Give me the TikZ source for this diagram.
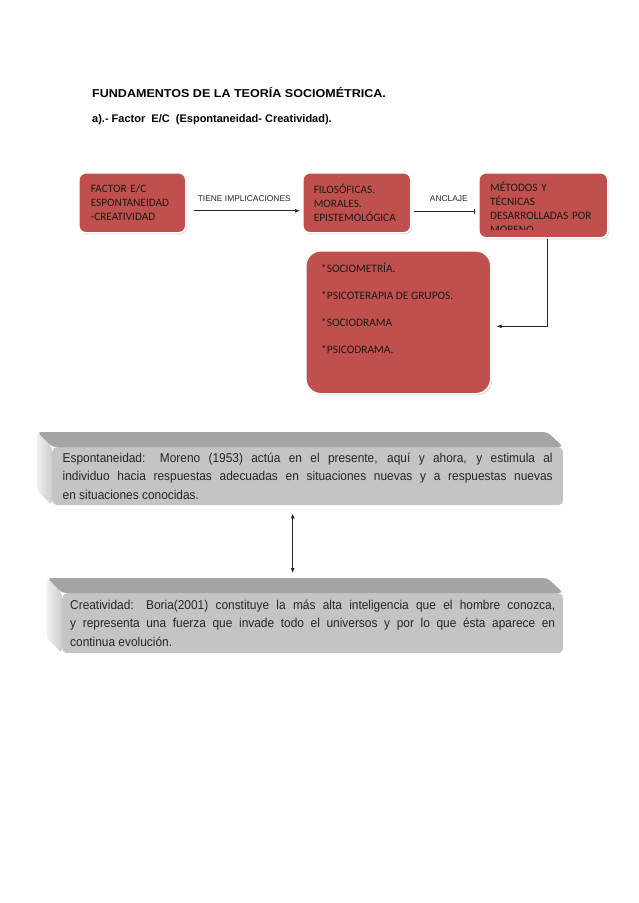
\documentclass[tikz,border=0pt]{standalone}
\usepackage{fontspec}
\setmainfont{Liberation Sans}
\newfontfamily\calibri{Carlito}
\newfontfamily\titlefont[FakeStretch=1.1]{Liberation Sans}
\newfontfamily\grayfont[FakeStretch=0.93]{Liberation Sans}
\usetikzlibrary{positioning,calc,shadows,arrows.meta}
\definecolor{boxred}{HTML}{C0504D}
\definecolor{frontgray}{HTML}{C4C4C4}
\definecolor{topgray}{HTML}{A4A4A4}
\tikzset{
  redbox/.style={draw=white, line width=1.6pt, fill=boxred, rounded corners=7pt, anchor=north west,
    drop shadow={shadow xshift=1.2pt, shadow yshift=-1.5pt, opacity=0.35},
    font=\calibri\fontsize{11.3}{13.7}\selectfont, text=black!90, align=left, inner xsep=12pt, inner ysep=0pt},
  boxtext/.style={anchor=north west, inner sep=0pt, align=left, text=black!90},
  graybox/.style={fill=frontgray, rounded corners=5pt, anchor=north west, align=justify,
    font=\grayfont\fontsize{12.8}{18.5}\selectfont, text=black!85, inner ysep=0pt},
  link/.style={line width=0.8pt, black!85},
  linklabel/.style={font=\fontsize{8.4}{9}\selectfont, inner sep=0pt, text=black!85}
}
\begin{document}
\begin{tikzpicture}[x=1pt, y=-1pt]
    \useasboundingbox (0,0) rectangle (638,903);
    % titulos
    \node[anchor=west, inner sep=0pt, font=\titlefont\bfseries\fontsize{11.4}{12}\selectfont] (title) at (92,92) {FUNDAMENTOS DE LA TEORÍA SOCIOMÉTRICA.};
    \node[anchor=west, inner sep=0pt, font=\bfseries\fontsize{11}{12}\selectfont] (sub) at (92,120) {a).- Factor\ \ E/C\ \ (Espontaneidad- Creatividad).};
    % fila superior
    \node[redbox, text width=83pt, minimum height=60pt] (f1) at (78,172) {FACTOR E/C\\ESPONTANEIDAD\\-CREATIVIDAD};
    \node[redbox, text width=86pt, minimum height=60pt, inner xsep=11pt] (f2) at (302,172) {FILOSÓFICAS.\\MORALES.\\EPISTEMOLÓGICA};
    \node[redbox, minimum width=129pt, minimum height=65pt] (f3) at (478,172) {};
    \begin{scope}
        \clip ($(f3.north west)+(4,4)$) rectangle ($(f3.south east)+(-4,-9)$);
        \node[boxtext, text width=112pt, font=\calibri\fontsize{11.3}{13.9}\selectfont] (f3text) at ($(f3.north west)+(12,10)$) {MÉTODOS Y\\TÉCNICAS\\DESARROLLADAS POR\\MORENO};
    \end{scope}
    % recuadro de aplicaciones
    \node[redbox, rounded corners=15pt, minimum width=185pt, minimum height=143pt] (s4) at (305,250) {};
    \node[boxtext, font=\calibri\fontsize{11.4}{27}\selectfont] (s4text) at ($(s4.north west)+(16,13)$) {*SOCIOMETRÍA.\\*PSICOTERAPIA DE GRUPOS.\\*SOCIODRAMA\\*PSICODRAMA.};
    % conectores
    \draw[link, -{Latex[length=5pt, width=4pt]}, shorten <=7pt, shorten >=2pt] ([yshift=-8pt]f1.east) -- ([yshift=-8pt]f2.west)
        node[linklabel, midway, above=9pt] {TIENE IMPLICACIONES};
    \draw[link, -{Bar[width=5pt]}, shorten <=2pt, shorten >=3pt] ([yshift=-9pt]f2.east) -- ([yshift=-9pt]f2.east -| f3.west)
        node[linklabel, pos=0.5, xshift=4pt, above=10pt] {ANCLAJE};
    \draw[link, -{Latex[length=5pt, width=4pt]}, shorten >=5pt] ([xshift=4pt]f3.south) |- ([yshift=-4pt]s4.east);
    % cuadros grises
    \node[graybox, text width=490pt, minimum width=511pt, minimum height=58pt, inner xsep=10.5pt] (g1) at (52,447)
        {Espontaneidad: Moreno (1953) actúa en el presente, aquí y ahora, y estimula al\linebreak
         individuo hacia respuestas adecuadas en situaciones nuevas y a respuestas nuevas\linebreak
         en situaciones conocidas.};
    \node[graybox, text width=485pt, minimum width=501pt, minimum height=60pt, inner xsep=8pt] (g2) at (62,593)
        {Creatividad: Boria(2001) constituye la más alta inteligencia que el hombre conozca,\linebreak
         y representa una fuerza que invade todo el universos y por lo que ésta aparece en\linebreak
         continua evolución.};
    \foreach \g in {g1,g2} {
        \fill[topgray, rounded corners=4pt] ($(\g.north west)+(-15,-15)$) -- ($(\g.north east)+(-16,-15)$) -- (\g.north east) -- (\g.north west) -- cycle;
        \shade[left color=gray!12, right color=gray!40, rounded corners=4pt] ($(\g.north west)+(-15,-15)$) -- ($(\g.south west)+(-15,-15)$) -- (\g.south west) -- (\g.north west) -- cycle;
    }
    \coordinate (dtop) at ([xshift=-15pt, yshift=-8pt]g1.south);
    \coordinate (dbot) at ($(dtop |- g2.north)+(0,-20)$);
    \draw[link, {Latex[length=5pt, width=4pt]}-{Latex[length=5pt, width=4pt]}] (dtop) -- (dbot);
\end{tikzpicture}
\end{document}
